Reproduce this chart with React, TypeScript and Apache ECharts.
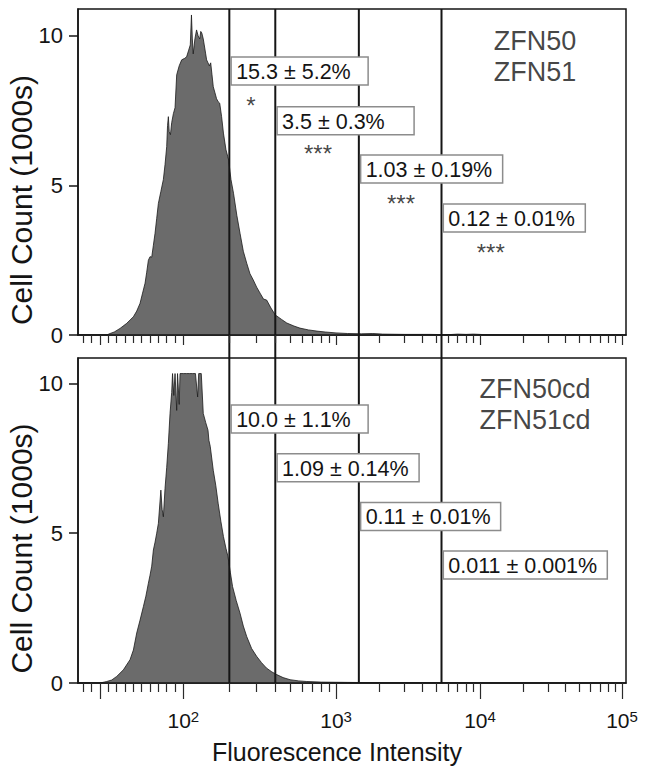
import React, { useEffect, useRef } from "react";
import * as echarts from "echarts";

// ---------- data ----------
const GATES = [200, 400, 1440, 5400];

const TOP_INTENSITY = [-26.5, 0, 8, 12, 17, 24, 32, 36, 40, 44, 48, 51, 54, 56, 58, 60, 62, 64, 66, 68, 70, 73, 76, 78, 80, 81, 82, 83, 84.5, 86, 88, 90, 92, 95, 98, 102, 105, 108, 111, 113, 114.5, 116, 119, 122, 125, 128, 130, 132, 135, 137, 140, 142, 145, 148, 151, 154, 157, 161, 165, 169, 173, 178, 183, 190, 198, 205, 213, 224, 235, 247, 260, 273, 287, 302, 318, 335, 351, 375, 400, 440, 476, 530, 580, 660, 750, 850, 1000, 1200, 1500, 1800, 2100, 3000, 4500, 6000, 7000, 8000, 9000, 11000, 14000, 100000];
const TOP_COUNT = [0, 0, 0, 0.05, 0.1, 0.22, 0.39, 0.5, 0.61, 0.8, 1.06, 1.4, 1.73, 2.1, 2.5, 2.62, 2.6, 3.0, 3.4, 3.9, 4.4, 4.8, 5.2, 5.7, 6.3, 7.0, 7.3, 6.8, 6.7, 7.1, 7.4, 7.6, 8.7, 9.0, 9.2, 9.25, 9.3, 9.5, 9.7, 10.7, 9.9, 9.4, 9.9, 10.2, 10.0, 9.9, 10.15, 10.1, 9.9, 9.7, 9.4, 9.2, 9.1, 9.0, 9.1, 8.7, 8.3, 8.1, 7.9, 7.8, 7.75, 7.3, 6.75, 6.2, 5.85, 5.2, 4.74, 4.0, 3.4, 2.8, 2.4, 2.05, 1.84, 1.6, 1.4, 1.2, 1.17, 0.9, 0.67, 0.52, 0.4, 0.3, 0.23, 0.17, 0.13, 0.1, 0.07, 0.05, 0.04, 0.05, 0.03, 0.02, 0.02, 0.01, 0.03, 0.02, 0.03, 0.01, 0, 0];

const BOTTOM_INTENSITY = [-26.5, 0, 8, 14, 20, 28, 36, 40, 44, 48, 52, 55, 58, 60, 62, 64, 66, 68, 70, 73, 74.5, 76, 78, 80, 82, 84, 86, 87, 88.5, 90, 92, 93, 95, 96, 100, 105, 110, 115, 120, 124, 126, 131, 135, 140, 145, 147, 150, 157, 163, 169, 176, 183, 190, 196, 203, 210, 222, 235, 247, 260, 280, 302, 325, 350, 380, 409, 450, 500, 570, 643, 800, 1200, 2000, 4000, 8000, 12000, 100000];
const BOTTOM_COUNT = [0, 0, 0.05, 0.1, 0.22, 0.44, 0.78, 1.1, 1.67, 2.1, 2.55, 2.9, 3.33, 3.6, 3.9, 4.44, 4.7, 5.0, 5.33, 6.44, 5.8, 5.55, 6.5, 7.2, 8.0, 9.0, 9.7, 10.33, 9.6, 10.33, 9.1, 10.33, 9.3, 10.33, 10.33, 10.33, 10.33, 10.33, 10.33, 9.55, 10.33, 10.33, 9.0, 8.7, 8.44, 8.1, 7.9, 7.1, 6.6, 6.0, 5.4, 4.89, 4.5, 4.22, 3.7, 3.22, 2.75, 2.33, 1.9, 1.55, 1.15, 0.89, 0.68, 0.5, 0.37, 0.28, 0.18, 0.11, 0.07, 0.05, 0.03, 0.02, 0.01, 0.01, 0.01, 0, 0];

const TOP_GATE_LABELS = ["15.3 ± 5.2%", "3.5 ± 0.3%", "1.03 ± 0.19%", "0.12 ± 0.01%"];
const BOTTOM_GATE_LABELS = ["10.0 ± 1.1%", "1.09 ± 0.14%", "0.11 ± 0.01%", "0.011 ± 0.001%"];
const TOP_LABEL_LEVEL = [8.83, 7.16, 5.55, 3.91];
const BOTTOM_LABEL_LEVEL = [8.81, 7.19, 5.56, 3.94];

const TOP_STARS = ["*", "***", "***", "***"];
const STAR_INTENSITY = [277, 762, 2825, 11900];
const STAR_LEVEL = [7.68, 6.08, 4.41, 2.77];

const TOP_SAMPLE = ["ZFN50", "ZFN51"];
const BOTTOM_SAMPLE = ["ZFN50cd", "ZFN51cd"];
const SAMPLE_INTENSITY = 24400;
const SAMPLE_LEVEL = 9.3;

const Y_TICKS = [0, 5, 10];
const DECADES = [2, 3, 4, 5];
const MAJOR_TICKS = [0, 100, 1000, 10000, 100000];
const MINOR_TICKS = [-20, -10, 10, 20, 30, 40, 50, 60, 70, 80, 90, 200, 300, 400, 500, 600, 700, 800, 900, 2000, 3000, 4000, 5000, 6000, 7000, 8000, 9000, 20000, 30000, 40000, 50000, 60000, 70000, 80000, 90000];

// ---------- logicle-like display scale ----------
const DECADE_UNITS = [0, 1.0, 1.943, 2.873]; // display position of 10^2..10^5
const LINEAR_SPAN = 0.5455; // display width of 0..100 (linear part)
function scale(v: number): number {
  if (v <= 100) return ((v - 100) / 100) * LINEAR_SPAN;
  const L = Math.log10(v) - 2;
  const i = Math.min(2, Math.max(0, Math.floor(L)));
  return DECADE_UNITS[i] + (L - i) * (DECADE_UNITS[i + 1] - DECADE_UNITS[i]);
}
const X_MIN = scale(-26.5);
const X_MAX = 2.899;

const FONT = '"Liberation Sans", Arial, Helvetica, sans-serif';
const INK = "#141414";
const BOX_FONT_SIZE = 21.5;

let measureCtx: CanvasRenderingContext2D | null = null;
function textWidth(t: string, size: number): number {
  if (!measureCtx) measureCtx = document.createElement("canvas").getContext("2d");
  if (!measureCtx) return t.length * size * 0.55;
  measureCtx.font = `${size}px ${FONT}`;
  return measureCtx.measureText(t).width;
}

export default function App() {
  const ref = useRef<HTMLDivElement>(null);

  useEffect(() => {
    if (!ref.current) return;
    const chart = echarts.init(ref.current, undefined, { renderer: "svg" });

    const xBase = (gridIndex: number) => ({
      type: "value" as const,
      gridIndex,
      min: X_MIN,
      max: X_MAX,
      position: "bottom" as const,
      splitLine: { show: false },
      axisLabel: { show: false },
    });
    const tickStyle = { color: "#2a2a2a", width: 1.2 };

    const yAxis = (gridIndex: number, max: number) => ({
      type: "value" as const,
      gridIndex,
      min: 0,
      max,
      z: 5,
      splitLine: { show: false },
      axisLine: { show: true, onZero: false, lineStyle: { color: INK, width: 1.5 } },
      axisTick: { show: true, length: 9, customValues: Y_TICKS, lineStyle: { color: INK, width: 1.5 } },
      axisLabel: { show: true, customValues: Y_TICKS, fontSize: 22, color: INK, margin: 15, fontFamily: FONT },
      name: "Cell Count (1000s)",
      nameLocation: "middle" as const,
      nameGap: 42,
      nameMoveOverlap: false,
      nameTextStyle: { fontSize: 30, lineHeight: 30, color: INK, fontFamily: FONT, padding: [0, 56, 0, 0] },
    });

    const histogram = (xi: number, yi: number, xs: number[], ys: number[]) => ({
      type: "line" as const,
      xAxisIndex: xi,
      yAxisIndex: yi,
      data: xs.map((v, i) => [scale(v), ys[i]]),
      symbol: "none",
      lineStyle: { color: "#1a1a1a", width: 0.8 },
      areaStyle: { color: "#6b6b6b", opacity: 1 },
      z: 2,
      silent: true,
    });

    const gateLine = (g: number) => ({
      type: "line" as const,
      xAxisIndex: 4,
      yAxisIndex: 2,
      data: [
        [scale(g), 0],
        [scale(g), 1],
      ],
      symbol: "none",
      lineStyle: { color: "#151515", width: 2 },
      z: 3,
      silent: true,
    });

    const hidden = { color: "rgba(0,0,0,0)" };

    const gateBoxes = (xi: number, yi: number, texts: string[], levels: number[]) => ({
      type: "custom" as const,
      xAxisIndex: xi,
      yAxisIndex: yi,
      z: 10,
      silent: true,
      clip: false,
      data: GATES.map((g, i) => [scale(g), levels[i]]),
      renderItem: (params: any, api: any) => {
        const p = api.coord([api.value(0), api.value(1)]);
        const t = texts[params.dataIndex];
        const w = Math.max(137, Math.ceil(textWidth(t, BOX_FONT_SIZE)) + 15);
        const h = 28;
        const x0 = p[0] + 1.8;
        return {
          type: "group",
          children: [
            {
              type: "rect",
              shape: { x: x0, y: p[1] - h / 2, width: w, height: h },
              style: { fill: "#ffffff", stroke: "#8c8c8c", lineWidth: 1.5 },
            },
            {
              type: "text",
              x: x0 + 5,
              y: p[1] + 1,
              style: {
                text: t,
                fill: INK,
                fontSize: BOX_FONT_SIZE,
                fontFamily: FONT,
                align: "left",
                verticalAlign: "middle",
              },
            },
          ],
        };
      },
    });

    const sampleLabel = (xi: number, yi: number, lines: string[]) => ({
      type: "scatter" as const,
      xAxisIndex: xi,
      yAxisIndex: yi,
      symbolSize: 1,
      itemStyle: hidden,
      z: 10,
      silent: true,
      label: {
        show: true,
        position: "inside" as const,
        formatter: lines.join("\n"),
        fontSize: 27,
        lineHeight: 31,
        align: "center" as const,
        color: INK,
        fontFamily: FONT,
      },
      data: [[scale(SAMPLE_INTENSITY), SAMPLE_LEVEL]],
    });

    const gridCommon = { left: 78, width: 548, containLabel: false, outerBoundsMode: "none" };

    chart.setOption({
      animation: false,
      textStyle: { fontFamily: FONT },
      grid: [
        { ...gridCommon, top: 9, height: 326, show: true, borderColor: INK, borderWidth: 1.5, backgroundColor: "transparent" },
        { ...gridCommon, top: 358, height: 325, show: true, borderColor: INK, borderWidth: 1.5, backgroundColor: "transparent" },
        { ...gridCommon, top: 9, height: 674, show: false },
      ],
      xAxis: [
        {
          ...xBase(0),
          z: 5,
          axisLine: { show: true, onZero: false, lineStyle: { color: INK, width: 1.5 } },
          axisTick: { show: true, length: 8, customValues: MINOR_TICKS.map(scale), lineStyle: tickStyle },
        },
        {
          ...xBase(0),
          z: 5,
          axisLine: { show: false, onZero: false },
          axisTick: { show: true, length: 10, customValues: MAJOR_TICKS.map(scale), lineStyle: tickStyle },
        },
        {
          ...xBase(1),
          z: 5,
          axisLine: { show: true, onZero: false, lineStyle: { color: INK, width: 1.5 } },
          axisTick: { show: true, length: 9, customValues: MINOR_TICKS.map(scale), lineStyle: tickStyle },
          axisLabel: {
            show: true,
            customValues: DECADES.map((d) => scale(Math.pow(10, d))),
            margin: 26,
            formatter: (val: number) => {
              let best = 0;
              DECADES.forEach((d, i) => {
                if (Math.abs(scale(Math.pow(10, d)) - val) < Math.abs(scale(Math.pow(10, DECADES[best])) - val)) best = i;
              });
              return `{b|10}{s|${DECADES[best]}}`;
            },
            rich: {
              b: { fontSize: 21, color: INK, fontFamily: FONT, lineHeight: 22 },
              s: { fontSize: 15, color: INK, fontFamily: FONT, verticalAlign: "top", lineHeight: 15 },
            },
          },
          name: "Fluorescence Intensity",
          nameLocation: "middle",
          nameGap: 56,
          nameMoveOverlap: false,
          nameTextStyle: { fontSize: 25, color: INK, fontFamily: FONT, padding: [0, 30, 0, 0] },
        },
        {
          ...xBase(1),
          z: 5,
          axisLine: { show: false, onZero: false },
          axisTick: { show: true, length: 16, customValues: MAJOR_TICKS.map(scale), lineStyle: tickStyle },
        },
        { ...xBase(2), show: false },
      ],
      yAxis: [
        yAxis(0, 10.9),
        yAxis(1, 10.85),
        { type: "value", gridIndex: 2, min: 0, max: 1, show: false },
      ],
      series: [
        histogram(0, 0, TOP_INTENSITY, TOP_COUNT),
        histogram(2, 1, BOTTOM_INTENSITY, BOTTOM_COUNT),
        ...GATES.map(gateLine),
        gateBoxes(0, 0, TOP_GATE_LABELS, TOP_LABEL_LEVEL),
        gateBoxes(2, 1, BOTTOM_GATE_LABELS, BOTTOM_LABEL_LEVEL),
        {
          type: "scatter",
          xAxisIndex: 0,
          yAxisIndex: 0,
          symbolSize: 1,
          itemStyle: hidden,
          z: 10,
          silent: true,
          label: { show: true, position: "inside", formatter: "{b}", fontSize: 24, color: INK, fontFamily: FONT },
          data: TOP_STARS.map((s, i) => ({ name: s, value: [scale(STAR_INTENSITY[i]), STAR_LEVEL[i]] })),
        },
        sampleLabel(0, 0, TOP_SAMPLE),
        sampleLabel(2, 1, BOTTOM_SAMPLE),
      ],
    });

    return () => chart.dispose();
  }, []);

  return <div ref={ref} style={{ position: "absolute", left: 0, top: 0, width: 646, height: 775, background: "#fff" }} />;
}
